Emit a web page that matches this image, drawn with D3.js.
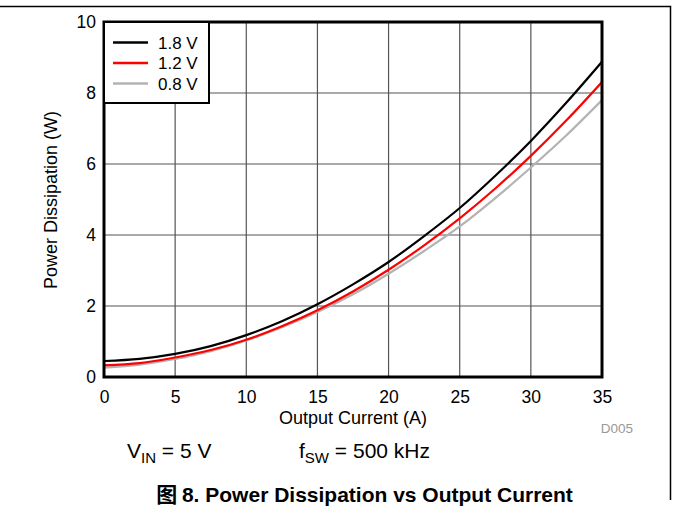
<!DOCTYPE html>
<html><head><meta charset="utf-8">
<script src="https://cdn.jsdelivr.net/npm/d3@7"></script>
<style>body{margin:0;background:#fff}svg{display:block}text{font-family:"Liberation Sans",Arial,sans-serif}</style>
</head><body><svg id="c" width="673" height="508"></svg>
<script>
const current = [0,2.5,5,7.5,10,12.5,15,17.5,20,22.5,25,27.5,30,32.5,35];
const p18 = [0.45,0.51,0.65,0.87,1.18,1.57,2.05,2.61,3.24,3.97,4.76,5.67,6.65,7.73,8.88];
const p12 = [0.33,0.39,0.55,0.76,1.05,1.43,1.88,2.41,3.02,3.71,4.47,5.31,6.23,7.23,8.31];
const p08 = [0.26,0.35,0.51,0.73,1.03,1.40,1.83,2.33,2.91,3.55,4.24,5.04,5.90,6.81,7.80];
const seriesNames = ["1.8 V","1.2 V","0.8 V"];
const seriesColors = ["#000000","#ff0000","#b3b3b3"];
const xTicks = [0,5,10,15,20,25,30,35];
const yTicks = [0,2,4,6,8,10];

const svg = d3.select("#c");
const L=104,R=602,T=22,B=377;
const x = d3.scaleLinear().domain([0,35]).range([L,R]);
const y = d3.scaleLinear().domain([0,10]).range([B,T]);

// outer frame
svg.append("path").attr("d","M0,6.5H670.5V500").attr("fill","none").attr("stroke","#000").attr("stroke-width",1.5);

// grid
const g = svg.append("g");
g.selectAll(".gx").data(xTicks).enter().append("line")
 .attr("x1",d=>x(d)).attr("x2",d=>x(d)).attr("y1",T).attr("y2",B)
 .attr("stroke","#555").attr("stroke-width",1.2);
g.selectAll(".gy").data(yTicks).enter().append("line")
 .attr("x1",L).attr("x2",R).attr("y1",d=>y(d)).attr("y2",d=>y(d))
 .attr("stroke","#555").attr("stroke-width",1.2);

// axes labels
const xa = d3.axisBottom(x).tickValues(xTicks).tickSize(0).tickPadding(14);
svg.append("g").attr("transform",`translate(0,${B})`).call(xa)
 .call(s=>s.select(".domain").remove())
 .selectAll("text").attr("font-size",17.5).attr("fill","#000").style("font-family","Liberation Sans, Arial");
const ya = d3.axisLeft(y).tickValues(yTicks).tickSize(0).tickPadding(8);
svg.append("g").attr("transform",`translate(${L},0)`).call(ya)
 .call(s=>s.select(".domain").remove())
 .selectAll("text").attr("font-size",17.5).attr("fill","#000").style("font-family","Liberation Sans, Arial");

// curves
const data = [p18,p12,p08];
const line = d3.line().x((d,i)=>x(current[i])).y(d=>y(d)).curve(d3.curveMonotoneX);
svg.append("defs").append("clipPath").attr("id","cp").append("rect").attr("x",L).attr("y",T).attr("width",R-L).attr("height",B-T);
const cg = svg.append("g").attr("clip-path","url(#cp)");
[2,1,0].forEach(k=>{
 cg.append("path").attr("d",line(data[k])).attr("fill","none").attr("stroke",seriesColors[k]).attr("stroke-width",2.2);
});

// plot border
svg.append("rect").attr("x",L).attr("y",T).attr("width",R-L).attr("height",B-T)
 .attr("fill","none").attr("stroke","#000").attr("stroke-width",3);

// legend
const lg = svg.append("g");
lg.append("rect").attr("x",L).attr("y",T).attr("width",105).attr("height",81)
 .attr("fill","#fff").attr("stroke","#000").attr("stroke-width",2);
seriesNames.forEach((n,i)=>{
 const yy = 42.5 + i*20.5;
 lg.append("line").attr("x1",113).attr("x2",148).attr("y1",yy).attr("y2",yy).attr("stroke",seriesColors[i]).attr("stroke-width",2.5);
 lg.append("text").attr("x",158).attr("y",yy+6.2).attr("font-size",17).text(n);
});

// axis titles
svg.append("text").attr("x",(L+R)/2).attr("y",424).attr("text-anchor","middle").attr("font-size",18).text("Output Current (A)");
svg.append("text").attr("transform","translate(57,200) rotate(-90)").attr("text-anchor","middle").attr("font-size",18).text("Power Dissipation (W)");
svg.append("text").attr("x",633).attr("y",433).attr("text-anchor","end").attr("font-size",13.5).attr("fill","#999").text("D005");

// conditions
const c1 = svg.append("text").attr("x",127).attr("y",458).attr("font-size",21);
c1.append("tspan").text("V");
c1.append("tspan").attr("font-size",15).attr("dy",5).text("IN");
c1.append("tspan").attr("dy",-5).text(" = 5 V");
const c2 = svg.append("text").attr("x",299).attr("y",458).attr("font-size",21);
c2.append("tspan").text("f");
c2.append("tspan").attr("font-size",15).attr("dy",5).text("SW");
c2.append("tspan").attr("dy",-5).text(" = 500 kHz");

// title
const t = svg.append("text").attr("x",364.5).attr("y",502).attr("text-anchor","middle").attr("font-size",21).attr("font-weight","bold");
t.append("tspan").style("font-family","Noto Sans CJK SC").text("图 ");
t.append("tspan").text("8. Power Dissipation vs Output Current");
</script></body></html>
